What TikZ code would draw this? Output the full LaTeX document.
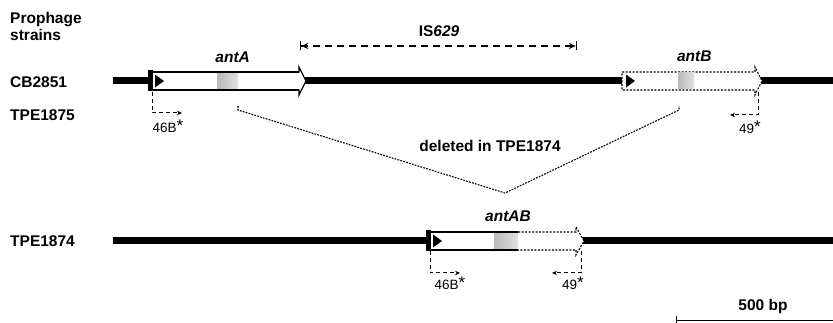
\documentclass[tikz,border=0pt]{standalone}
\usepackage{fontspec}
\setmainfont{Liberation Sans}
\usetikzlibrary{arrows.meta,positioning,calc}
\definecolor{boxdark}{RGB}{185,185,185}
\definecolor{boxlight}{RGB}{225,225,225}

\begin{document}
\begin{tikzpicture}[x=1pt,y=-1pt,
    strain/.style={font=\fontsize{15.5}{18}\selectfont\bfseries, anchor=base west, inner sep=0pt},
    gene/.style={font=\fontsize{15.5}{18}\selectfont\bfseries\itshape, anchor=base, inner sep=0pt},
    plain/.style={font=\fontsize{15.5}{18}\selectfont\bfseries, anchor=base, inner sep=0pt},
    primerlbl/.style={font=\fontsize{13.5}{15}\selectfont, anchor=base, inner sep=0pt},
    chrom/.style={line width=7pt},
    dotbox/.style={line width=1.1pt, dash pattern=on 2pt off 1.5pt},
    primer/.style={line width=1pt, dash pattern=on 4pt off 3pt, -{Stealth[length=5pt,width=4.5pt]}},
    delline/.style={line width=1.1pt, dash pattern=on 1.8pt off 1.2pt},
    isarrow/.style={line width=1.2pt, dash pattern=on 7pt off 5pt,
        {Bar[width=9pt]Stealth[length=7pt,width=6pt]}-{Stealth[length=7pt,width=6pt]Bar[width=9pt]}}]
\useasboundingbox (0,0) rectangle (833,323);

% strain labels
\node[strain] (head1) at (10,24) {Prophage};
\node[strain] (head2) at (10,40.7) {strains};
\node[strain] (cb) at (10,87.5) {CB2851};
\node[strain] (tpe75) at (10,120.7) {TPE1875};
\node[strain] (tpe74) at (10,246.7) {TPE1874};

% chromosomes
\coordinate (topL) at (113,81);
\coordinate (topR) at (833,81);
\coordinate (botL) at (113,241);
\coordinate (botR) at (833,241);
\draw[chrom] (topL) -- (topR);
\draw[chrom] (botL) -- (botR);

% antA
\filldraw[fill=white, line width=1.2pt] (149,72) -- (299,72) -- (299,67) -- (306,81) -- (299,95) -- (299,90) -- (149,90) -- cycle;
\shade[left color=boxdark, right color=boxlight] (217,73) rectangle (238,89);
\draw[line width=2pt] (149,72) -- (299,72) (149,90) -- (299,90);
\fill (148,70.5) rectangle (153,91.5);
\fill (155,74.5) -- (164,81) -- (155,87.5) -- cycle;
\node[gene] (antA) at (232.7,62.3) {antA};

% antB
\filldraw[fill=white, dotbox] (622,72) -- (755,72) -- (755,67) -- (762,81) -- (755,95) -- (755,90) -- (622,90) -- cycle;
\shade[left color=boxdark, right color=boxlight] (678,73) rectangle (694,89);
\fill (626,74.5) -- (635,81) -- (626,87.5) -- cycle;
\node[gene] (antB) at (694.3,61.7) {antB};

% antAB
\fill[white] (427,232) -- (576,232) -- (576,227) -- (584,241) -- (576,255) -- (576,250) -- (427,250) -- cycle;
\shade[left color=boxdark, right color=boxlight] (494,233) rectangle (518,249);
\draw[dotbox] (518,232) -- (576,232) -- (576,227) -- (584,241) -- (576,255) -- (576,250) -- (518,250);
\draw[line width=2pt] (518,232) -- (427,232) -- (427,250) -- (518,250);
\fill (426,230.5) rectangle (431,251.5);
\fill (433,234.5) -- (442,241) -- (433,247.5) -- cycle;
\node[gene] (antAB) at (508,221.7) {antAB};

% IS629
\coordinate (isL) at (300,46);
\coordinate (isR) at (577,46);
\draw[isarrow] (isL) -- (isR);
\node[plain] (islbl) at (439,36.7) {IS\textit{629}};

% primers
\coordinate (p46a) at (152,92);
\coordinate (p46b) at (182,113);
\coordinate (p49a) at (758,92);
\coordinate (p49b) at (730,115);
\coordinate (q46a) at (430,251);
\coordinate (q46b) at (460,273);
\coordinate (q49a) at (581,251);
\coordinate (q49b) at (552,273);
\draw[primer] (p46a) |- (p46b);
\draw[primer] (p49a) |- (p49b);
\draw[primer] (q46a) |- (q46b);
\draw[primer] (q49a) |- (q49b);
\node[primerlbl] (l46a) at (168,133) {46B\raisebox{1pt}{\fontsize{17}{17}\selectfont*}};
\node[primerlbl] (l49a) at (750,134) {49\raisebox{1pt}{\fontsize{17}{17}\selectfont*}};
\node[primerlbl] (l46b) at (450,290) {46B\raisebox{1pt}{\fontsize{17}{17}\selectfont*}};
\node[primerlbl] (l49b) at (573,290) {49\raisebox{1pt}{\fontsize{17}{17}\selectfont*}};

% deletion
\coordinate (delA) at (238,106);
\coordinate (delB) at (679,106);
\coordinate (delV) at (505,193);
\draw[delline] (delA) -- ++(0,4) -- (delV) -- ($(delB)+(0,4)$) -- (delB);
\node[plain] (dellbl) at (490,151.7) {deleted in TPE1874};

% scale bar
\coordinate (barL) at (676,320);
\coordinate (barR) at (833,320);
\draw[line width=1pt, {Bar[width=8pt]}-] (barL) -- (barR);
\node[plain] (barlbl) at (763,310.7) {500 bp};
\end{tikzpicture}
\end{document}
